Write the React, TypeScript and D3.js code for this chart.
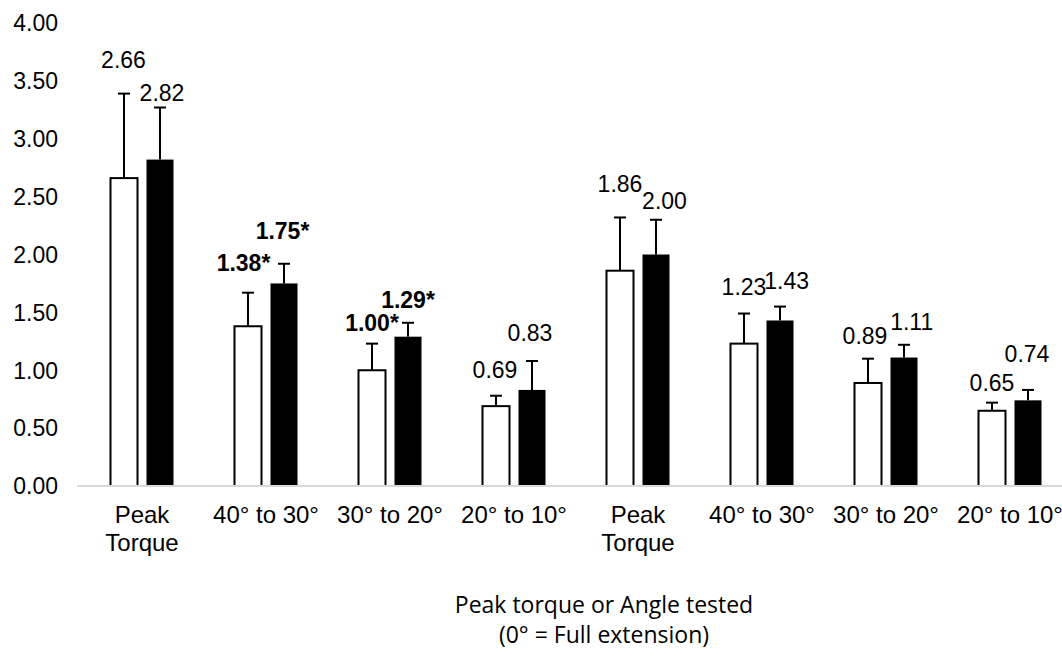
import React from 'react';
import * as d3 from 'd3';

// values
const categories = ['Peak Torque', '40° to 30°', '30° to 20°', '20° to 10°', 'Peak Torque', '40° to 30°', '30° to 20°', '20° to 10°'];
const whiteMeans = [2.66, 1.38, 1.0, 0.69, 1.86, 1.23, 0.89, 0.65];
const blackMeans = [2.82, 1.75, 1.29, 0.83, 2.0, 1.43, 1.11, 0.74];
const whiteErr = [0.73, 0.29, 0.23, 0.09, 0.46, 0.26, 0.21, 0.07];
const blackErr = [0.45, 0.17, 0.12, 0.25, 0.3, 0.12, 0.11, 0.09];
const whiteSig = [false, true, true, false, false, false, false, false];
const blackSig = [false, true, true, false, false, false, false, false];
const yTicks = [0, 0.5, 1, 1.5, 2, 2.5, 3, 3.5, 4];
const axisTitle = ['Peak torque or Angle tested', '(0° = Full extension)'];

// hand-placed data label nudges (px), like the manual Excel layout
const whiteNudgeX = [-0.5, -4.5, 0, -1, 0, 0, -3, 0];
const whiteNudgeY = [-34, -30, -21, -26, -34, -27, -23, -20];
const blackNudgeX = [2, -1.5, 0, -2, 8.5, 6.7, 7.7, -1];
const blackNudgeY = [-15, -33, -23, -28, -19, -26, -23, -36];

const W = 1062;
const H = 652;
const FONT = "'Liberation Sans', Arial, sans-serif";
const FS = 23;

const App: React.FC = () => {
  const x = d3.scaleBand<number>()
    .domain(d3.range(categories.length))
    .range([80, 1072]);
  const step = x.step();
  const inner = d3.scaleBand<string>()
    .domain(['white', 'black'])
    .range([(step - 63) / 2, (step + 63) / 2])
    .paddingInner(0.25);
  const y = d3.scaleLinear().domain([0, 4]).range([486, 23]);
  const bw = inner.bandwidth();

  const series = [
    { key: 'white', means: whiteMeans, err: whiteErr, sig: whiteSig, nx: whiteNudgeX, ny: whiteNudgeY },
    { key: 'black', means: blackMeans, err: blackErr, sig: blackSig, nx: blackNudgeX, ny: blackNudgeY },
  ];

  return (
    <svg width={W} height={H} style={{ position: 'absolute', left: 0, top: 0, background: '#fff' }}>
      {/* y tick labels */}
      <g fontFamily={FONT} fontSize={FS} fill="#000">
        {yTicks.map(t => (
          <text key={t} x={58} y={y(t)} dy="0.36em" textAnchor="end">{d3.format('.2f')(t)}</text>
        ))}
      </g>

      {/* bars */}
      {series.map(s => (
        <g key={s.key}>
          {s.means.map((v, i) => {
            const bx = (x(i) || 0) + (inner(s.key) || 0);
            return (
              <rect key={i} x={bx} y={y(v)} width={bw} height={y(0) - y(v)}
                fill={s.key === 'white' ? '#fff' : '#000'}
                stroke="#000" strokeWidth={s.key === 'white' ? 2 : 0} />
            );
          })}
        </g>
      ))}

      {/* axis line */}
      <line x1={77} x2={W} y1={y(0)} y2={y(0)} stroke="#d9d9d9" strokeWidth={2} />

      {/* error bars (upper only) */}
      {series.map(s => (
        <g key={'e' + s.key} stroke="#000" strokeWidth={2}>
          {s.means.map((v, i) => {
            const cx = (x(i) || 0) + (inner(s.key) || 0) + bw / 2;
            const top = y(v + s.err[i]);
            return (
              <g key={i}>
                <line x1={cx} x2={cx} y1={y(v)} y2={top} />
                <line x1={cx - 6} x2={cx + 6} y1={top} y2={top} />
              </g>
            );
          })}
        </g>
      ))}

      {/* data labels */}
      {series.map(s => (
        <g key={'l' + s.key} fontFamily={FONT} fontSize={FS} fill="#000" textAnchor="middle">
          {s.means.map((v, i) => {
            const cx = (x(i) || 0) + (inner(s.key) || 0) + bw / 2;
            const top = y(v + s.err[i]);
            return (
              <text key={i} x={cx + s.nx[i]} y={top + s.ny[i]} dy="0.36em"
                fontWeight={s.sig[i] ? 'bold' : 'normal'}>
                {d3.format('.2f')(v) + (s.sig[i] ? '*' : '')}
              </text>
            );
          })}
        </g>
      ))}

      {/* category labels */}
      <g fontFamily={FONT} fontSize={24} fill="#000" textAnchor="middle">
        {categories.map((c, i) => {
          const cx = (x(i) || 0) + step / 2;
          const lines = c === 'Peak Torque' ? ['Peak', 'Torque'] : [c];
          return (
            <text key={i} x={cx} y={514}>
              {lines.map((l, j) => (
                <tspan key={j} x={cx} dy={j === 0 ? '0.36em' : 28}>{l}</tspan>
              ))}
            </text>
          );
        })}
      </g>

      {/* axis title */}
      <g fontFamily="'Open Sans', 'Noto Sans', sans-serif" fontSize={23} fill="#000" textAnchor="middle">
        {axisTitle.map((t, i) => (
          <text key={i} x={604} y={605 + i * 30} dy="0.36em">{t}</text>
        ))}
      </g>
    </svg>
  );
};

export default App;
